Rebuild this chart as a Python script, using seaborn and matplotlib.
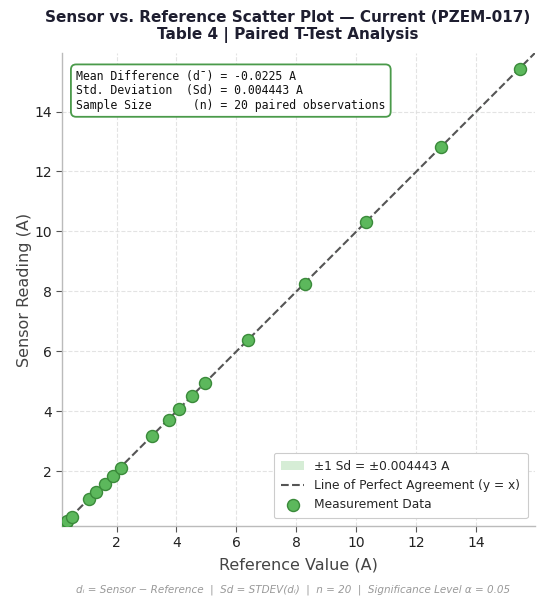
import matplotlib
matplotlib.use("Agg")
import matplotlib.pyplot as plt
import seaborn as sns
import numpy as np
import pandas as pd

# ---- data ----
reference = [0.22, 0.26, 0.30, 0.36, 0.50, 1.09, 1.33, 1.60, 1.87, 2.14,
             3.20, 3.74, 4.09, 4.53, 4.96, 6.40, 8.27, 10.33, 12.83, 15.45]
sensor = [0.202, 0.235, 0.280, 0.333, 0.478, 1.071, 1.300, 1.576, 1.854, 2.119,
          3.172, 3.717, 4.073, 4.504, 4.938, 6.380, 8.239, 10.306, 12.811, 15.432]
mean_diff = -0.0225
sd_diff = 0.004443
n_obs = 20
axis_lo, axis_hi = 0.18, 15.95
ticks = [2, 4, 6, 8, 10, 12, 14]

df = pd.DataFrame({"Reference": reference, "Sensor": sensor})

sns.set_theme(style="whitegrid")
plt.rcParams["font.family"] = ["DejaVu Sans"]

fig = plt.figure(figsize=(5.48, 6.03), dpi=100)
ax = fig.add_axes([0.113, 0.128, 0.863, 0.784])

line = np.array([axis_lo, axis_hi])
ax.fill_between(line, line - sd_diff, line + sd_diff, color="#5cb85c", alpha=0.25,
                linewidth=0, label=f"±1 Sd = ±{sd_diff:.6f} A", zorder=1)
ax.plot(line, line, linestyle="--", color="#555555", linewidth=1.5,
        label="Line of Perfect Agreement (y = x)", zorder=2)
sns.scatterplot(data=df, x="Reference", y="Sensor", ax=ax, s=75,
                color="#5cb85c", edgecolor="#3a8a3a", linewidth=1.0,
                label="Measurement Data", zorder=3)

ax.set_xlim(axis_lo, axis_hi)
ax.set_ylim(axis_lo, axis_hi)
ax.set_xticks(ticks)
ax.set_yticks(ticks)
ax.grid(True, linestyle="--", color="#dddddd", linewidth=0.8, alpha=0.8)
for s in ["top", "right"]:
    ax.spines[s].set_visible(False)
for s in ["left", "bottom"]:
    ax.spines[s].set_color("#bbbbbb")
    ax.spines[s].set_linewidth(1.0)
ax.tick_params(axis="both", which="major", length=4, width=0.8, color="#555555",
               labelsize=10, labelcolor="#222222", bottom=True, left=True, pad=3)

ax.set_xlabel("Reference Value (A)", fontsize=11.5, color="#444444", labelpad=6)
ax.set_ylabel("Sensor Reading (A)", fontsize=11.5, color="#444444", labelpad=2)
ax.set_title("Sensor vs. Reference Scatter Plot — Current (PZEM-017)\nTable 4 | Paired T-Test Analysis",
             fontsize=11, fontweight="bold", color="#1e1e30", pad=10, x=0.478)

box_text = (f"Mean Difference (d¯) = {mean_diff:.4f} A\n"
            f"Std. Deviation  (Sd) = {sd_diff:.6f} A\n"
            f"Sample Size      (n) = {n_obs} paired observations")
ax.text(0.03, 0.965, box_text, transform=ax.transAxes, fontsize=8.3,
        family="DejaVu Sans Mono", va="top", ha="left", color="#111111",
        linespacing=1.15,
        bbox=dict(boxstyle="round,pad=0.45", facecolor="white",
                  edgecolor="#4a9a4a", linewidth=1.3))

leg = ax.legend(loc="lower right", fontsize=8.8, frameon=True, framealpha=1.0,
                edgecolor="#cccccc", borderpad=0.6, handlelength=1.9,
                borderaxespad=0.6)
leg.get_frame().set_linewidth(0.8)

fig.text(0.535, 0.014,
         "dᵢ = Sensor − Reference  |  Sd = STDEV(dᵢ)  |  n = 20  |  Significance Level α = 0.05",
         ha="center", va="bottom", fontsize=7.5, style="italic", color="#999999")

fig.savefig("out.png", dpi=100)
